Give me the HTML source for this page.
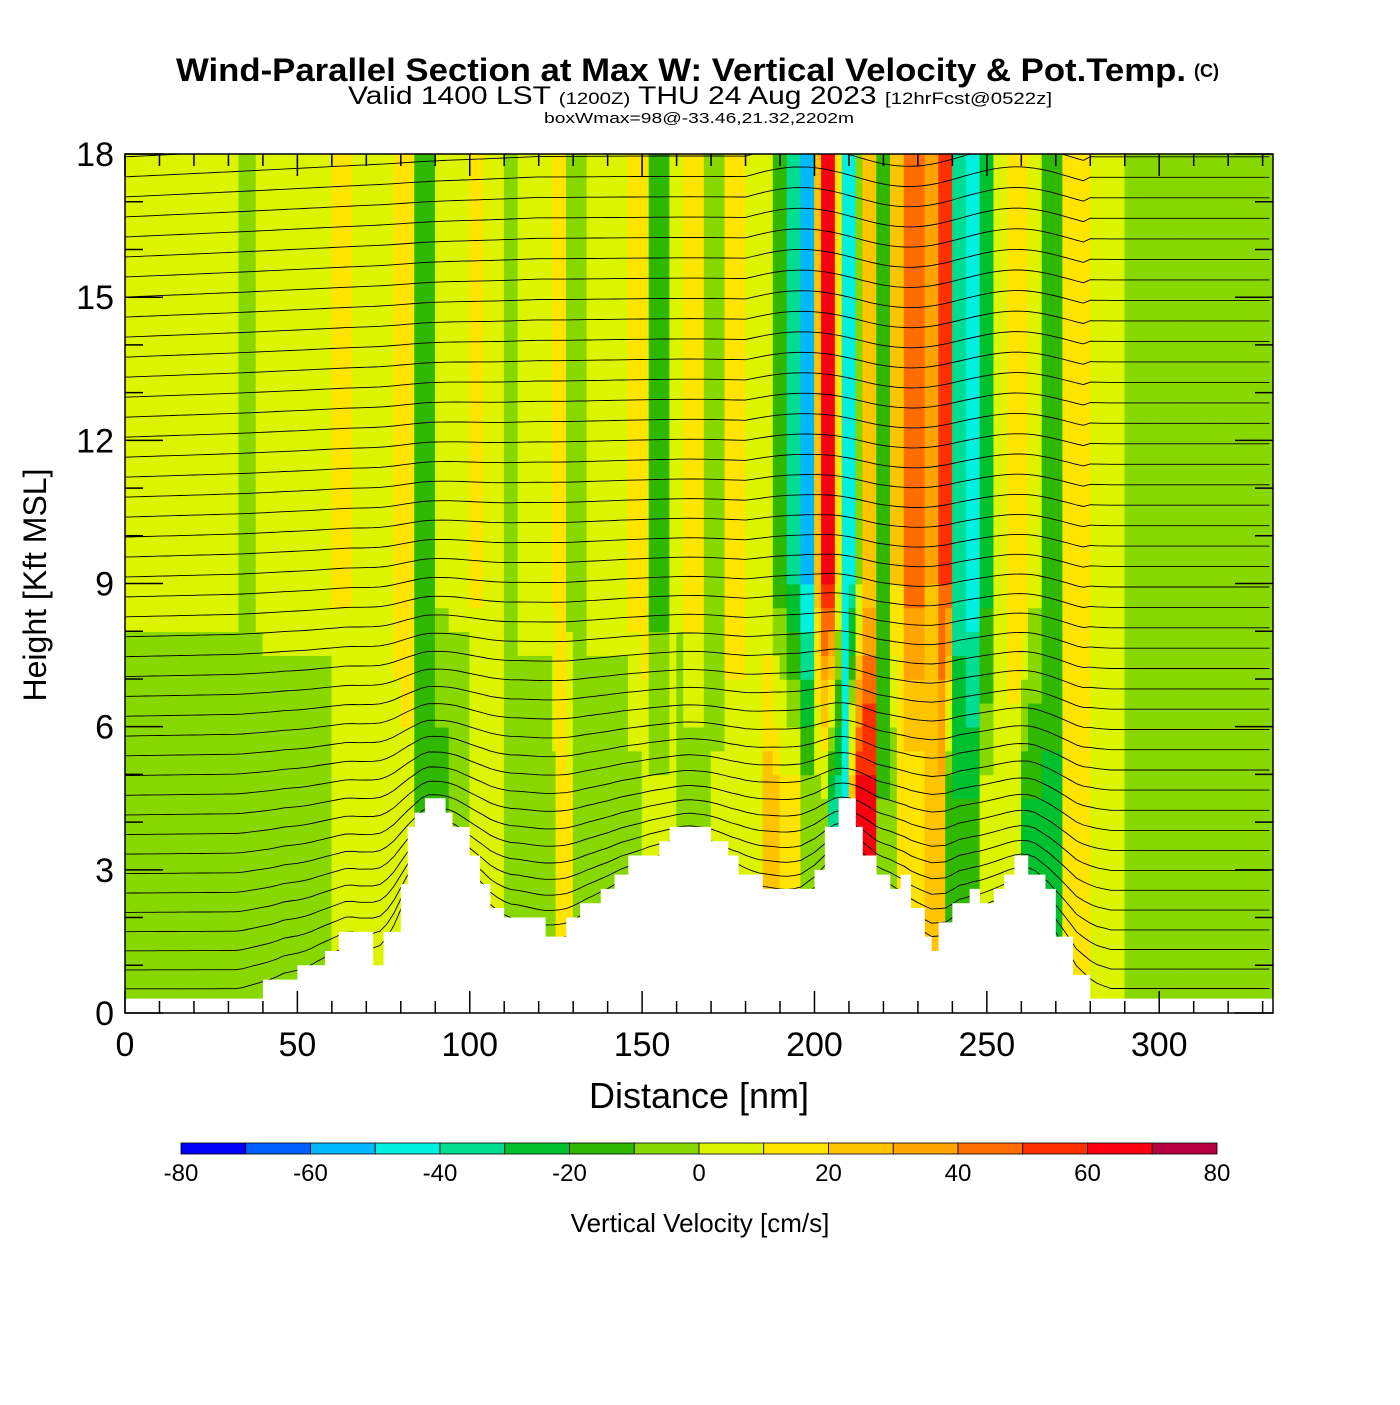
<!DOCTYPE html>
<html><head><meta charset="utf-8"><style>
body{margin:0;background:#fff;width:1400px;height:1400px;overflow:hidden}
svg text{font-family:"Liberation Sans",sans-serif}
</style></head><body>
<svg id="chart" width="1400" height="1400" xmlns="http://www.w3.org/2000/svg">
<text x="176" y="81" font-size="32" font-weight="bold" textLength="1010" lengthAdjust="spacingAndGlyphs">Wind-Parallel Section at Max W: Vertical Velocity &amp; Pot.Temp.</text>
<text x="1194" y="77" font-size="18" font-weight="bold">(C)</text>
<text x="348" y="104" font-size="25" textLength="704" lengthAdjust="spacingAndGlyphs">Valid 1400 LST <tspan font-size="17">(1200Z)</tspan> THU 24 Aug 2023 <tspan font-size="17">[12hrFcst@0522z]</tspan></text>
<text x="544" y="123" font-size="15" textLength="310" lengthAdjust="spacingAndGlyphs">boxWmax=98@-33.46,21.32,2202m</text>
<defs><clipPath id="pc"><rect x="125" y="154" width="1148" height="859"/></clipPath></defs>
<g id="cells" clip-path="url(#pc)"></g>
<g id="contours" clip-path="url(#pc)"></g>
<g id="terrain" clip-path="url(#pc)"></g>
<rect x="125" y="154" width="1148" height="859" fill="none" stroke="#000" stroke-width="1.5"/>
<g id="axes"></g>
<text x="699" y="1108" text-anchor="middle" font-size="36">Distance [nm]</text>
<text transform="translate(46,585) rotate(-90)" text-anchor="middle" font-size="32">Height [Kft MSL]</text>
<g id="cbar"></g>
<text x="700" y="1232" text-anchor="middle" font-size="26">Vertical Velocity [cm/s]</text>
</svg>
<script>
const colors=["#0000f8","#0060ff","#00b8ff","#00f0e0","#00dc90","#00c030","#30b800","#88d800","#dcf400","#ffe400","#ffc400","#ffa400","#ff6c00","#ff3000","#f80010","#b80040"];
const cbarTicks=[-80,-60,-40,-20,0,20,40,60,80];
const xTicks=[0,50,100,150,200,250,300];
const yTicks=[0,3,6,9,12,15,18];
const wUpper=[[0,33,3],[33,38,-8],[38,60,3],[60,66,12],[66,78,3],[78,84,18],[84,90,-15],[90,100,3],[100,104,12],[104,110,3],[110,114,-8],[114,124,3],[124,128,12],[128,134,-5],[134,146,3],[146,152,15],[152,158,-15],[158,162,3],[162,168,18],[168,174,-10],[174,180,15],[180,188,3],[188,192,-15],[192,196,-35],[196,200,-52],[200,202,25],[202,206,62],[206,208,10],[208,212,-45],[212,214,-5],[214,218,25],[218,222,-20],[222,226,20],[226,232,45],[232,236,30],[236,240,52],[240,244,-35],[244,248,-48],[248,252,-25],[252,256,5],[256,262,18],[262,266,3],[266,272,-15],[272,280,15],[280,290,3],[290,300,-10],[300,334,-8]];
const wLower=[[0,40,-10],[40,60,-5],[60,80,0],[80,84,5],[84,94,-18],[94,100,-8],[100,110,0],[110,125,-5],[125,130,12],[130,150,-5],[150,160,3],[160,170,-10],[170,185,3],[185,190,25],[190,196,15],[196,204,-5],[204,210,-40],[210,212,30],[212,218,68],[218,224,-10],[224,232,10],[232,238,25],[238,248,-20],[248,260,3],[260,272,-22],[272,280,15],[280,290,3],[290,334,-10]];
const terrain=[[0,40,0.3],[40,50,0.7],[50,58,1.0],[58,62,1.3],[62,72,1.7],[72,75,1.0],[75,80,1.7],[80,82,2.7],[82,84,3.9],[84,87,4.2],[87,93,4.5],[93,95,4.2],[95,100,3.9],[100,103,3.3],[103,106,2.7],[106,110,2.2],[110,122,2.0],[122,128,1.6],[128,132,2.0],[132,138,2.3],[138,142,2.6],[142,146,2.9],[146,155,3.3],[155,158,3.6],[158,170,3.9],[170,175,3.6],[175,178,3.3],[178,185,2.9],[185,200,2.6],[200,203,3.0],[203,207,3.9],[207,212,4.5],[212,214,3.9],[214,218,3.3],[218,222,2.9],[222,225,2.6],[225,228,2.9],[228,232,2.2],[232,234,1.6],[234,236,1.3],[236,240,1.9],[240,245,2.3],[245,248,2.6],[248,252,2.3],[252,255,2.6],[255,258,2.9],[258,262,3.3],[262,267,2.9],[267,270,2.6],[270,275,1.6],[275,280,0.8],[280,334,0.3]];
const NS="http://www.w3.org/2000/svg";
const X=d=>125+d*3.4474, Y=h=>1013-h*47.72;
function seg(arr,d){for(const s of arr) if(d>=s[0]&&d<s[1]) return s[2]; return 0;}
function el(t,a,p){const e=document.createElementNS(NS,t);for(const k in a)e.setAttribute(k,a[k]);p.appendChild(e);return e;}
function col(w){let i=Math.floor((w+80)/10);return colors[Math.max(0,Math.min(15,i))];}
const cells=document.getElementById('cells');
for(let d=0;d<333;d+=1){for(let h=0;h<18;h+=0.5){
 const t=Math.max(0,Math.min(1,(h-4)/5));
 const w=seg(wLower,d+0.5)*(1-t)+seg(wUpper,d+0.5)*t;
 const r=el('rect',{x:X(d)-0.3,y:Y(h+0.5)-0.3,width:4.2,height:25,fill:col(w)},cells);
 
 
}}
function terr(d){return seg(terrain,d);}
function smooth(d){let s=0,n=0;for(let k=-6;k<=6;k+=1){s+=terr(Math.max(0,Math.min(333,d+k)));n++;}return s/n;}
const cg=document.getElementById('contours');
for(let L=0.3;L<18.8;L+=0.42){
 let pts=[];
 for(let d=0;d<=333;d+=2){const h=L+0.75*smooth(d)*Math.exp(-L/3.5)+0.012*L*(d>180&&d<280?Math.sin((d-180)/10):0)+0.002*L*Math.min(d,120)/10;pts.push(X(d).toFixed(1)+","+Y(h).toFixed(1));}
 const p=el('polyline',{points:pts.join(" "),fill:"none",stroke:"#000","stroke-width":0.9},cg);
 
 
}
const tg=document.getElementById('terrain');
let tp="M"+X(0)+","+Y(0);
for(const s of terrain){tp+=" L"+X(s[0])+","+Y(s[2])+" L"+X(s[1])+","+Y(s[2]);}
tp+=" L"+X(334)+","+Y(0)+" Z";
const tr=el('path',{d:tp,fill:"#fff"},tg);


const ax=document.getElementById('axes');
for(let d=0;d<=330;d+=10){const M=d%50==0;
 el('line',{x1:X(d),x2:X(d),y1:1013,y2:1013-(M?22:12),stroke:"#000","stroke-width":1.5},ax);
 el('line',{x1:X(d),x2:X(d),y1:154,y2:154+(M?22:12),stroke:"#000","stroke-width":1.5},ax);}
for(const v of xTicks){const t=el('text',{x:X(v),y:1056,"text-anchor":"middle","font-size":34},ax);t.textContent=v;
 
 }
for(let h=0;h<=18;h+=1){const M=h%3==0;
 el('line',{x1:125,x2:125+(M?38:18),y1:Y(h),y2:Y(h),stroke:"#000","stroke-width":1.5},ax);
 el('line',{x1:1273,x2:1273-(M?38:18),y1:Y(h),y2:Y(h),stroke:"#000","stroke-width":1.5},ax);}
for(const v of yTicks){const t=el('text',{x:114,y:Y(v)+12,"text-anchor":"end","font-size":34},ax);t.textContent=v;
 
 }
const cb=document.getElementById('cbar');const bw=(1217-181)/16;
colors.forEach((c,i)=>{const r=el('rect',{x:181+i*bw,y:1143,width:bw,height:11,fill:c,stroke:"#000","stroke-width":0.8},cb);
 
 });
for(const v of cbarTicks){const t=el('text',{x:181+(v+80)/160*1036,y:1181,"text-anchor":"middle","font-size":24},cb);t.textContent=v;
 
 }
</script>
</body></html>
